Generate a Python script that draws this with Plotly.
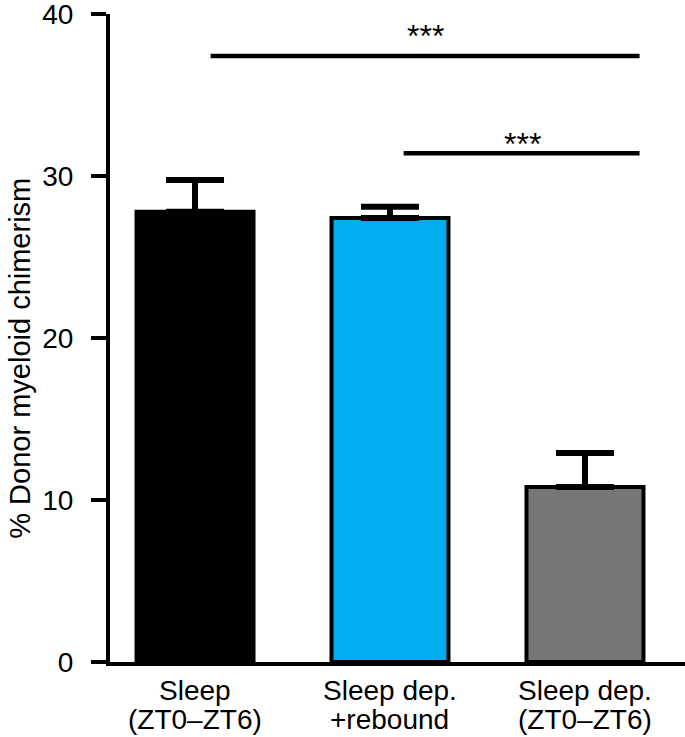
import plotly.graph_objects as go

groups = ["Sleep (ZT0–ZT6)", "Sleep dep. +rebound", "Sleep dep. (ZT0–ZT6)"]
label_top = ["Sleep", "Sleep dep.", "Sleep dep."]
label_bottom = ["(ZT0–ZT6)", "+rebound", "(ZT0–ZT6)"]
chimerism = [27.8, 27.4, 10.8]
sem = [1.95, 0.7, 2.1]
bar_colors = ["#000000", "#00AEEF", "#767676"]

FONT = "Liberation Sans, Arial, Helvetica, sans-serif"

fig = go.Figure()
fig.add_trace(go.Bar(
    x=groups, y=chimerism,
    width=0.6,
    marker=dict(color=bar_colors, line=dict(color="black", width=4)),
    error_y=dict(type="data", symmetric=False, array=sem, arrayminus=[0, 0, 0],
                 color="black", thickness=6, width=29),
))

# significance brackets
fig.add_shape(type="line", xref="x", yref="y", x0=0.08, x1=2.28, y0=37.4, y1=37.4,
              line=dict(color="black", width=4.5))
fig.add_shape(type="line", xref="x", yref="y", x0=1.07, x1=2.28, y0=31.4, y1=31.4,
              line=dict(color="black", width=4.5))
fig.add_annotation(x=1.18, y=38.65, text="***", showarrow=False, yanchor="middle",
                   font=dict(size=32, color="black", family=FONT))
fig.add_annotation(x=1.68, y=32.0, text="***", showarrow=False, yanchor="middle",
                   font=dict(size=32, color="black", family=FONT))

# two-line category labels
for i, g in enumerate(groups):
    fig.add_annotation(x=g, y=0, yref="y", text=label_top[i], showarrow=False,
                       xanchor="center", yanchor="middle", yshift=-28,
                       font=dict(size=28, color="black", family=FONT))
    fig.add_annotation(x=g, y=0, yref="y", text=label_bottom[i], showarrow=False,
                       xanchor="center", yanchor="middle", yshift=-57,
                       font=dict(size=28, color="black", family=FONT))

fig.add_annotation(xref="paper", yref="paper", x=0, y=0.468, xshift=-90,
                   xanchor="center", yanchor="middle",
                   text="% Donor myeloid chimerism", textangle=-90, showarrow=False,
                   font=dict(size=29, color="black", family=FONT))

fig.update_layout(
    width=685, height=737,
    margin=dict(l=110, r=0, t=14, b=75),
    plot_bgcolor="white", paper_bgcolor="white",
    showlegend=False,
    font=dict(family=FONT, color="black"),
    xaxis=dict(range=[-0.436, 2.513], showline=True, linewidth=4, linecolor="black",
               ticks="", showticklabels=False, showgrid=False, zeroline=False),
    yaxis=dict(range=[0, 40], tickvals=[0, 10, 20, 30, 40], showline=True, linewidth=4,
               linecolor="black", ticks="outside", ticklen=15, tickwidth=4, tickcolor="black",
               tickfont=dict(size=28, color="black"), ticklabelstandoff=12,
               ticklabeloverflow="allow", showgrid=False, zeroline=False),
)

fig.write_html("out.html", config={"displayModeBar": False},
               post_script="document.body.style.margin='0';")
